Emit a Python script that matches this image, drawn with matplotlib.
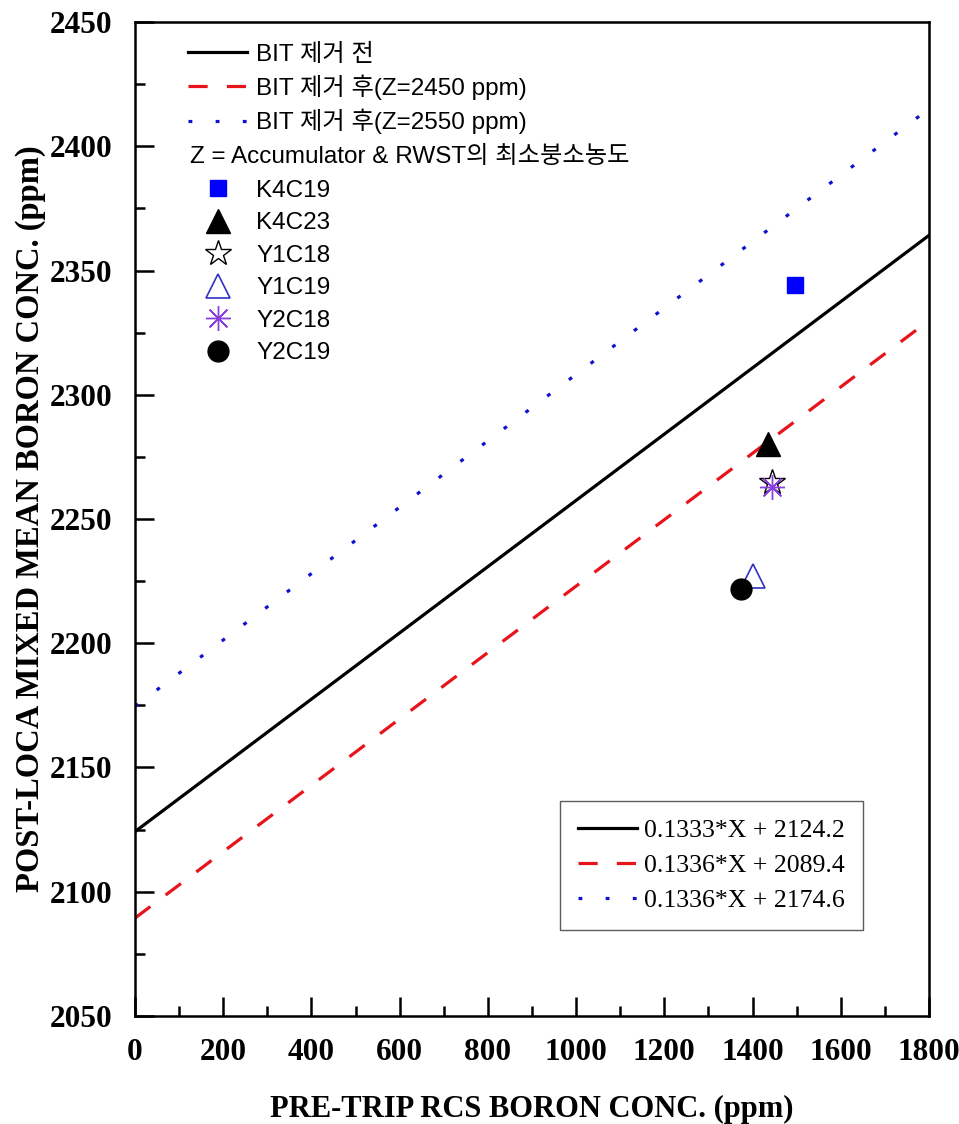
import matplotlib.pyplot as plt
import numpy as np

# regression lines: slope, intercept
fit_labels = ['0.1333*X + 2124.2', '0.1336*X + 2089.4', '0.1336*X + 2174.6']
slopes = [0.1333, 0.1336, 0.1336]
intercepts = [2124.2, 2089.4, 2174.6]
line_labels = ['BIT 제거 전', 'BIT 제거 후(Z=2450 ppm)', 'BIT 제거 후(Z=2550 ppm)']
note = 'Z = Accumulator & RWST의 최소붕소농도'

# plant cycle data points
cycles = ['K4C19', 'K4C23', 'Y1C18', 'Y1C19', 'Y2C18', 'Y2C19']
pre_trip = [1497, 1434, 1443, 1400, 1443, 1373]
post_loca = [2344, 2280, 2265, 2227, 2263, 2222]

x_line = np.array([0, 1800])

sans = ['Liberation Sans', 'Noto Sans CJK KR', 'DejaVu Sans']
serif = ['Liberation Serif', 'DejaVu Serif']

fig = plt.figure(figsize=(9.59, 11.24), dpi=100)
ax = fig.add_axes([0.1408, 0.0961, 0.8279, 0.8843])

styles = [dict(color='black', linestyle='-'),
          dict(color='#e8141c', linestyle=(0, (6, 6))),
          dict(color='#1010d0', linestyle=(0, (1.2, 7.3)))]
line_handles = []
for k in range(3):
    h, = ax.plot(x_line, slopes[k] * x_line + intercepts[k], lw=2.3, **styles[k])
    line_handles.append(h)

mstyles = [dict(marker='s', color='#0000ff', ms=12, mec='#0000ff'),
           dict(marker='^', color='black', ms=17, mec='black'),
           dict(marker='*', color='none', ms=19, mec='black', mew=1.0),
           dict(marker='^', color='none', ms=17, mec='#3030c0', mew=1.2),
           dict(marker=(8, 2, 0), color='#8a3de0', ms=18, mec='#8a3de0', mew=1.0),
           dict(marker='o', color='black', ms=15, mec='black')]
pt_handles = []
for k in range(len(cycles)):
    st = dict(mstyles[k])
    c = st.pop('color')
    h, = ax.plot([pre_trip[k]], [post_loca[k]], linestyle='none', mfc=c, **st)
    pt_handles.append(h)

ax.set_xlim(0, 1800)
ax.set_ylim(2050, 2450)
ax.set_xticks(np.arange(0, 1801, 200))
ax.set_xticks(np.arange(100, 1800, 200), minor=True)
ax.set_yticks(np.arange(2050, 2451, 50))
ax.set_yticks(np.arange(2075, 2450, 50), minor=True)
ax.tick_params(which='both', direction='in', width=1.8, top=False, right=False)
ax.tick_params(which='major', length=14, pad=16)
ax.tick_params(which='minor', length=7)
for lab in ax.get_xticklabels() + ax.get_yticklabels():
    lab.set_family(serif)
    lab.set_weight('bold')
    lab.set_fontsize(22.5)
for s in ax.spines.values():
    s.set_linewidth(1.8)

ax.set_xlabel('PRE-TRIP RCS BORON CONC. (ppm)', family=serif, weight='bold',
              fontsize=22, labelpad=20)
ax.set_ylabel('POST-LOCA MIXED MEAN BORON CONC. (ppm)', family=serif, weight='bold',
              fontsize=23.5, labelpad=3)

# upper legend: lines, note, then markers
leg_a = ax.legend(line_handles, line_labels,
                  loc='upper left', bbox_to_anchor=(0.055, 0.988), frameon=False,
                  prop=dict(family=sans, size=17.5), handlelength=2.4,
                  handletextpad=0.4, labelspacing=0.36, borderaxespad=0)
ax.add_artist(leg_a)
fig.text(190 / 959, 1 - 157 / 1124, note, family=sans, fontsize=17.5,
         ha='left', va='center')
leg_b = ax.legend(pt_handles, cycles,
                  loc='upper left', bbox_to_anchor=(0.055, 0.851), frameon=False,
                  prop=dict(family=sans, size=17.5), handlelength=2.4,
                  handletextpad=0.4, labelspacing=0.43, borderaxespad=0)
ax.add_artist(leg_b)

ax.legend(line_handles, fit_labels, loc='lower right',
          bbox_to_anchor=(0.917, 0.0865), frameon=True, fancybox=False,
          edgecolor='#333333', prop=dict(family=serif, size=18.5),
          handlelength=2.3, handletextpad=0.25, labelspacing=0.45,
          borderpad=0.72, borderaxespad=0)

fig.savefig('out.png', dpi=100)
